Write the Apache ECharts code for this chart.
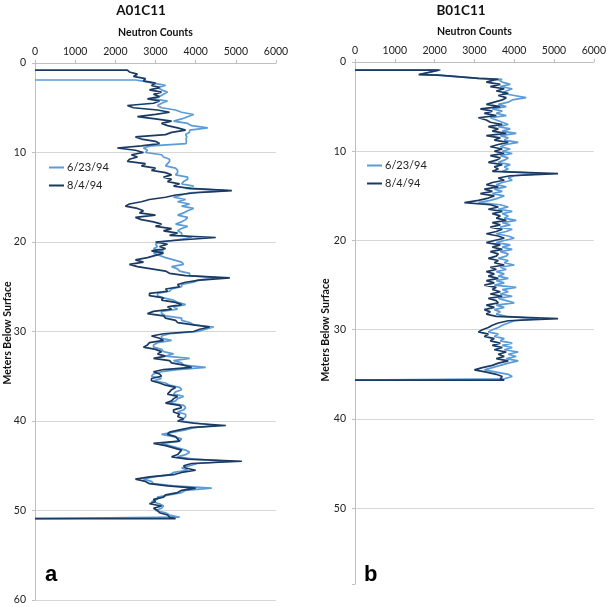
<!DOCTYPE html>
<html>
<head>
<meta charset="utf-8">
<script src="https://cdn.jsdelivr.net/npm/echarts@6/dist/echarts.min.js"></script>
<style>
html,body{margin:0;padding:0;background:#fff;}
#chart{width:609px;height:607px;}
</style>
</head>
<body>
<div id="chart"></div>
<script>
// ---------- DATA ----------
const seriesNames = ['6/23/94', '8/4/94'];
const panelTitles = ['A01C11', 'B01C11'];
const xTicks = [0, 1000, 2000, 3000, 4000, 5000, 6000];

// Panel A (A01C11): depth samples (m) and neutron counts
const depthsA = [
  1,1.25,1.5,1.75,2,2.25,2.5,2.75,
  3,3.25,3.5,3.75,4,4.25,4.5,4.75,
  5,5.25,5.5,5.75,6,6.25,6.5,6.75,
  7,7.25,7.5,7.75,8,8.25,8.5,8.75,
  9,9.25,9.5,9.75,10,10.25,10.5,10.75,
  11,11.25,11.5,11.75,12,12.25,12.5,12.75,
  13,13.25,13.5,13.75,14,14.25,14.5,14.75,
  15,15.25,15.5,15.75,16,16.25,16.5,16.75,
  17,17.25,17.5,17.75,18,18.25,18.5,18.75,
  19,19.25,19.5,19.75,20,20.25,20.5,20.75,
  21,21.25,21.5,21.75,22,22.25,22.5,22.75,
  23,23.25,23.5,23.75,24,24.25,24.5,24.75,
  25,25.25,25.5,25.75,26,26.25,26.5,26.75,
  27,27.25,27.5,27.75,28,28.25,28.5,28.75,
  29,29.25,29.5,29.75,30,30.25,30.5,30.75,
  31,31.25,31.5,31.75,32,32.25,32.5,32.75,
  33,33.25,33.5,33.75,34,34.25,34.5,34.75,
  35,35.25,35.5,35.75,36,36.25,36.5,36.75,
  37,37.25,37.5,37.75,38,38.25,38.5,38.75,
  39,39.25,39.5,39.75,40,40.25,40.5,40.75,
  41,41.25,41.5,41.75,42,42.25,42.5,42.75,
  43,43.25,43.5,43.75,44,44.25,44.5,44.75,
  45,45.25,45.5,45.75,46,46.25,46.5,46.75,
  47,47.25,47.5,47.75,48,48.25,48.5,48.75,
  49,49.25,49.5,49.75,50,50.25,50.5,50.75
];
const countsA_0623 = [
  null,null,null,null,2650,2950,3250,3050,
  3150,3300,3200,3100,2950,3300,3150,3050,
  3150,3500,3650,3950,3800,3650,3450,3800,
  3900,4300,3850,3850,3750,3780,3760,3770,
  3760,2900,2700,2800,2750,3150,3200,3350,
  3350,3300,3250,3500,3550,3550,3500,3800,
  3800,3700,3650,3950,3750,4800,3850,3650,
  3450,3750,3550,3850,3650,3950,3800,3700,
  3550,3800,3750,3650,3500,3800,3650,3550,
  3650,3650,3900,3550,3100,3000,3050,2950,
  3200,2950,3100,3250,3450,3650,3700,3400,
  3550,3600,3850,3850,4600,4050,3950,3650,
  3650,3400,3350,3050,3050,3200,3450,3550,
  3750,3450,3550,3150,3150,3250,3650,3650,
  3850,3950,4450,4250,4050,3350,3150,3150,
  3400,3050,2950,2950,3150,3200,3450,3250,
  3850,3450,3650,3700,4250,3550,3150,2950,
  2900,3150,2950,3250,3350,3600,3650,3500,
  3450,3700,3550,3500,3350,3700,3750,3700,
  3550,3750,3750,3700,3650,4050,4500,3950,
  3750,3450,3150,3450,3650,3600,3150,3350,
  3550,3750,3850,3750,3550,3950,4850,4050,
  3850,3650,3800,3450,3350,2950,2700,2900,
  2950,3450,4400,3750,3650,3350,3050,3050,
  2900,3100,3200,3150,3000,3250,3350,3600
];
const countsA_0804 = [
  2350,2550,2450,2750,2700,3000,2900,3100,
  2850,3150,2950,3100,2800,3100,2950,2300,
  2450,3050,3350,3000,2550,3000,3400,3150,
  3300,3550,3750,3400,3250,2500,2650,3000,
  3100,2650,2050,2500,2700,2400,2550,2350,
  2300,2750,2650,3000,2900,3250,3400,3200,
  3400,3300,3600,3450,3850,4900,4000,3500,
  3250,2850,2650,2350,2250,2550,2700,2600,
  3000,2500,2650,2950,3150,3000,3400,3200,
  3550,3350,4500,3700,3000,3300,3100,3250,
  2900,3200,3000,2800,2500,2700,2350,2550,
  2900,3250,3350,3750,4850,4100,3750,3550,
  3600,3250,3300,2850,2850,3200,3150,3500,
  3650,3300,3400,2950,2800,3200,3250,3500,
  3550,3950,4350,4100,3950,3200,2900,3100,
  3200,2850,2800,2700,3000,3150,3050,3250,
  2950,3350,3400,3700,3900,3200,2950,3100,
  3150,2900,2900,3100,3250,3500,3400,3350,
  3300,3550,3450,3400,3250,3600,3650,3450,
  3450,3600,3550,3700,3550,3950,4750,3850,
  3600,3350,3300,3500,3550,3600,2950,3250,
  3450,3650,3600,3550,3400,3800,5150,3900,
  3700,3750,4000,3650,3450,2850,2500,2750,
  2850,3300,4000,3650,3550,3250,3200,2950,
  3000,2850,3150,2950,3050,3100,3300,3350
];
// top / bottom of logged interval: [count, depth]
const topA_0623 = [[0, 1.9], [2500, 1.9]];
const topA_0804 = [[0, 0.8], [2300, 0.8]];
const bottomA_0623 = [[3600, 50.9], [0, 50.9]];
const bottomA_0804 = [[3500, 50.9], [0, 50.9]];

// Panel B (B01C11)
const depthsB = [
  2,2.25,2.5,2.75,3,3.25,3.5,3.75,
  4,4.25,4.5,4.75,5,5.25,5.5,5.75,
  6,6.25,6.5,6.75,7,7.25,7.5,7.75,
  8,8.25,8.5,8.75,9,9.25,9.5,9.75,
  10,10.25,10.5,10.75,11,11.25,11.5,11.75,
  12,12.25,12.5,12.75,13,13.25,13.5,13.75,
  14,14.25,14.5,14.75,15,15.25,15.5,15.75,
  16,16.25,16.5,16.75,17,17.25,17.5,17.75,
  18,18.25,18.5,18.75,19,19.25,19.5,19.75,
  20,20.25,20.5,20.75,21,21.25,21.5,21.75,
  22,22.25,22.5,22.75,23,23.25,23.5,23.75,
  24,24.25,24.5,24.75,25,25.25,25.5,25.75,
  26,26.25,26.5,26.75,27,27.25,27.5,27.75,
  28,28.25,28.5,28.75,29,29.25,29.5,29.75,
  30,30.25,30.5,30.75,31,31.25,31.5,31.75,
  32,32.25,32.5,32.75,33,33.25,33.5,33.75,
  34,34.25,34.5,34.75,35,35.25,35.5
];
const countsB_0623 = [
  3600,3700,3900,3650,3950,3800,3700,4000,
  4300,3950,3850,3600,3800,3450,3700,3550,
  3800,3400,3550,3700,3850,3600,3900,3700,
  4050,3650,3850,3750,4100,3800,3650,3900,
  3700,3950,3650,3850,3750,3600,3900,3750,
  3850,3700,4700,4000,3850,3950,3700,3550,
  3800,3500,3700,3450,3750,3600,3400,3100,
  3650,3850,3600,3950,3700,3850,3750,4050,
  3700,3900,3650,3950,3800,3550,3850,4000,
  3750,3550,3900,3700,3950,3650,3850,3800,
  3600,3850,3750,4000,3650,3800,3550,3750,
  3600,3850,3550,3750,3500,4050,3700,3850,
  3650,3950,3600,3800,4000,3550,3750,3500,
  3650,3550,3800,4600,4000,3850,3700,3600,
  3450,3350,3600,3500,3750,3650,3950,3700,
  3950,3750,4100,3850,4050,3800,4100,3850,
  3650,3450,3250,3550,3850,3950,3750
];
const countsB_0804 = [
  3500,3300,3650,3400,3750,3550,3850,3600,
  3800,3700,3500,3300,3650,3150,3450,3250,
  3550,3100,3300,3400,3700,3350,3600,3450,
  3800,3300,3650,3500,3850,3600,3400,3700,
  3500,3750,3400,3650,3550,3350,3700,3500,
  3600,3450,5100,3900,3600,3750,3450,3300,
  3600,3250,3450,3150,3500,3350,3100,2750,
  3400,3600,3350,3700,3450,3650,3550,3800,
  3450,3650,3400,3700,3550,3300,3600,3750,
  3500,3300,3650,3450,3700,3400,3600,3550,
  3350,3600,3500,3750,3400,3550,3300,3500,
  3350,3600,3300,3500,3250,3550,3450,3650,
  3400,3700,3350,3550,3600,3300,3500,3250,
  3400,3300,3550,5100,3850,3600,3450,3350,
  3200,3100,3350,3250,3500,3400,3650,3450,
  3700,3500,3800,3600,3750,3550,3850,3600,
  3450,3200,3000,3300,3550,3700,3650
];
const topB_0623 = [[0, 0.9], [2150, 0.9], [1620, 1.4], [2150, 1.5], [3100, 1.83], [3700, 1.95]];
const topB_0804 = [[0, 0.9], [2120, 0.9], [1600, 1.42], [2100, 1.48], [3110, 1.83], [3600, 1.95]];
const bottomB_0623 = [[3800, 35.65], [0, 35.65]];
const bottomB_0804 = [[3750, 35.65], [0, 35.65]];

// ---------- BUILD ----------
function build(top, depths, counts, bottom) {
  const out = top.slice();
  for (let i = 0; i < depths.length; i++) {
    if (counts[i] !== null && counts[i] !== undefined) out.push([counts[i], depths[i]]);
  }
  return out.concat(bottom);
}

const LIGHT = '#5b9bd8';
const DARK = '#1b3a62';
const AXIS = '#bfbfbf';
const GRIDC = '#d6d6d6';
const FONT = 'Lato, "Open Sans", sans-serif';

function xAxis(idx) {
  return {
    gridIndex: idx, type: 'value', position: 'top', min: 0, max: 6000, interval: 1000,
    name: 'Neutron Counts', nameLocation: 'middle', nameGap: 25,
    nameTextStyle: { fontFamily: FONT, fontWeight: 'bold', fontSize: 10.5, color: '#111' },
    axisLine: { show: true, lineStyle: { color: AXIS, width: 1 } },
    axisTick: { show: true, length: 3, lineStyle: { color: AXIS } },
    axisLabel: { fontFamily: FONT, fontSize: 10.5, color: '#222', margin: 6,
      formatter: v => xTicks.indexOf(v) >= 0 ? String(v) : '' },
    splitLine: { show: false }
  };
}
function yAxis(idx, max) {
  return {
    gridIndex: idx, type: 'value', inverse: true, min: 0, max: max, interval: 10,
    axisLine: { show: true, lineStyle: { color: AXIS, width: 1 } },
    axisTick: { show: true, length: 3, lineStyle: { color: AXIS } },
    axisLabel: { fontFamily: FONT, fontSize: 10.5, color: '#222', margin: 9,
      formatter: v => (v % 10 === 0) ? String(v) : '' },
    splitLine: { show: true, showMaxLine: max % 10 === 0, lineStyle: { color: GRIDC, width: 1.2 } }
  };
}
function line(name, color, xi, data) {
  return {
    name: name, type: 'line', xAxisIndex: xi, yAxisIndex: xi, data: data,
    showSymbol: false, symbol: 'none', animation: false,
    lineStyle: { color: color, width: 1.7 }, itemStyle: { color: color }
  };
}
function legend(left, top) {
  return {
    left: left, top: top, orient: 'vertical', itemGap: 7, itemWidth: 15, itemHeight: 2,
    icon: 'rect', data: seriesNames,
    textStyle: { fontFamily: FONT, fontSize: 11, color: '#222', padding: [0, 0, 0, -2] }
  };
}

const option = {
  backgroundColor: '#fff',
  animation: false,
  grid: [
    { left: 35, top: 63, width: 241, height: 537 },
    { left: 355, top: 62, width: 241, height: 522 }
  ],
  xAxis: [xAxis(0), xAxis(1)],
  yAxis: [yAxis(0, 60), yAxis(1, 58.5)],
  legend: [legend(44, 157), legend(362, 155)],
  series: [
    line(seriesNames[0], LIGHT, 0, build(topA_0623, depthsA, countsA_0623, bottomA_0623)),
    line(seriesNames[1], DARK, 0, build(topA_0804, depthsA, countsA_0804, bottomA_0804)),
    line(seriesNames[0], LIGHT, 1, build(topB_0623, depthsB, countsB_0623, bottomB_0623)),
    line(seriesNames[1], DARK, 1, build(topB_0804, depthsB, countsB_0804, bottomB_0804))
  ],
  graphic: [
    { type: 'text', x: 141, y: 11, style: { text: panelTitles[0], font: 'bold 13.5px ' + FONT, fill: '#111', textAlign: 'center', textVerticalAlign: 'middle' } },
    { type: 'text', x: 461, y: 11, style: { text: panelTitles[1], font: 'bold 13.5px ' + FONT, fill: '#111', textAlign: 'center', textVerticalAlign: 'middle' } },
    { type: 'text', x: 8, y: 333, rotation: Math.PI / 2, style: { text: 'Meters Below Surface', font: 'bold 10.5px ' + FONT, fill: '#111', textAlign: 'center', textVerticalAlign: 'middle' } },
    { type: 'text', x: 326, y: 330, rotation: Math.PI / 2, style: { text: 'Meters Below Surface', font: 'bold 10.5px ' + FONT, fill: '#111', textAlign: 'center', textVerticalAlign: 'middle' } },
    { type: 'text', x: 45, y: 575, style: { text: 'a', font: 'bold 22px "Liberation Sans", Arial, sans-serif', fill: '#000', textAlign: 'left', textVerticalAlign: 'middle' } },
    { type: 'text', x: 364, y: 575, style: { text: 'b', font: 'bold 22px "Liberation Sans", Arial, sans-serif', fill: '#000', textAlign: 'left', textVerticalAlign: 'middle' } }
  ]
};

const chart = echarts.init(document.getElementById('chart'), null, { renderer: 'canvas' });
chart.setOption(option);
</script>
</body>
</html>
